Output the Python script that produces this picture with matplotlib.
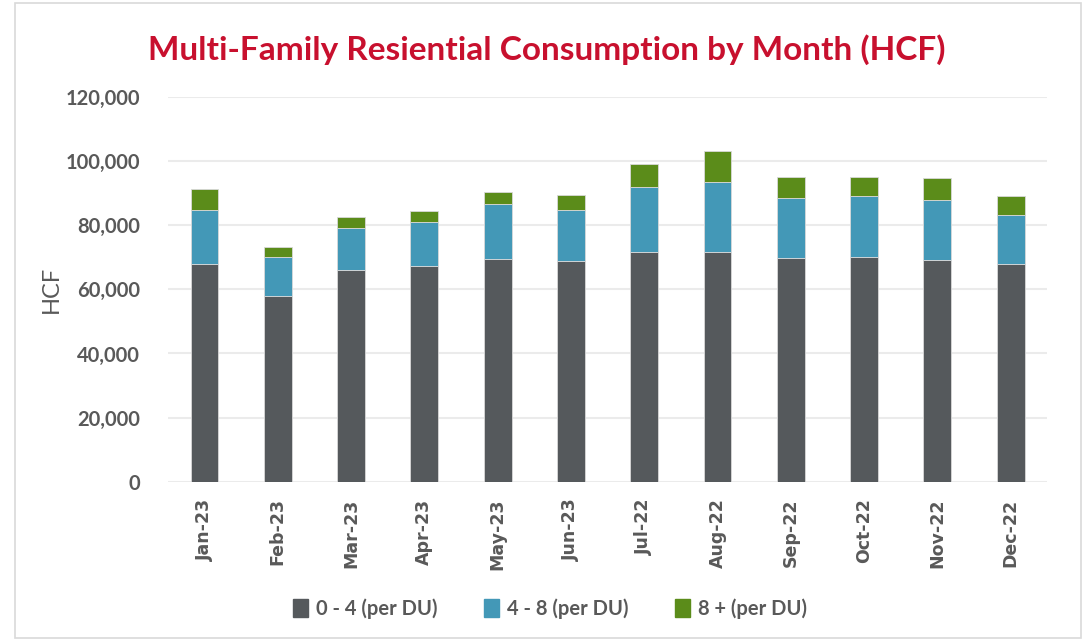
import matplotlib.pyplot as plt
import matplotlib.patches as mpatches
import numpy as np

# Monthly consumption (HCF)
months = ['Jan-23', 'Feb-23', 'Mar-23', 'Apr-23', 'May-23', 'Jun-23',
          'Jul-22', 'Aug-22', 'Sep-22', 'Oct-22', 'Nov-22', 'Dec-22']
tier_0_4 = [67850, 58080, 66190, 67430, 69400, 68780, 71800, 71800, 69820, 70130, 69090, 67850]
tier_4_8 = [16930, 11950, 12980, 13720, 17150, 16000, 20050, 21710, 18700, 19020, 18810, 15270]
tier_8_plus = [6650, 3120, 3330, 3320, 3850, 4780, 7380, 9660, 6650, 6020, 6960, 6030]

series_labels = ['0 - 4 (per DU)', '4 - 8 (per DU)', '8 + (per DU)']
colors = ['#55595C', '#4398B7', '#5B8C1A']

plt.rcParams['font.family'] = ['Lato', 'DejaVu Sans']

fig = plt.figure(figsize=(10.83, 6.41), dpi=100)
ax = fig.add_axes([0.155, 0.2485, 0.812, 0.6002])

x = np.arange(len(months))
width = 0.38
bottom = np.zeros(len(months))
for vals, lab, col in zip([tier_0_4, tier_4_8, tier_8_plus], series_labels, colors):
    ax.bar(x, vals, width, bottom=bottom, color=col, label=lab,
           edgecolor='#d9d9d9', linewidth=0.6, zorder=3)
    bottom += np.array(vals)

ax.set_xlim(-0.5, len(months) - 0.5)
ax.set_ylim(0, 120000)
ax.tick_params(axis='y', length=0, pad=20)
ax.tick_params(axis='x', length=0, pad=12, labelfontfamily='DejaVu Sans',
               labelsize=12.5, labelcolor='#595959', labelrotation=90)
ax.set_yticks(np.arange(0, 120001, 20000))
ax.set_yticklabels([f'{v:,}' for v in range(0, 120001, 20000)],
                   fontsize=14.5, fontweight='bold', color='#595959')
ax.set_xticks(x)
ax.set_xticklabels(months, fontweight='bold')
ax.grid(axis='y', color='#ebebeb', linewidth=1.5, zorder=0)
for s in ax.spines.values():
    s.set_visible(False)

ax.set_ylabel('HCF', fontsize=17, color='#595959', labelpad=3)

fig.text(0.505, 0.922, 'Multi-Family Resiential Consumption by Month (HCF)',
         ha='center', va='center', fontsize=24, fontweight='bold', color='#C8102E')

handles = [mpatches.Patch(color=c, label=l) for c, l in zip(colors, series_labels)]
fig.legend(handles=handles, loc='center', bbox_to_anchor=(0.508, 0.05), ncol=3,
           frameon=False, handlelength=0.75, handleheight=1.0,
           handletextpad=0.4, columnspacing=2.3,
           prop={'weight': 'bold', 'size': 14.5})
for t in fig.legends[0].get_texts():
    t.set_color('#595959')

# light frame around the chart area
fig.patches.append(mpatches.Rectangle((0.014, 0.004), 0.984, 0.992, transform=fig.transFigure,
                                      fill=False, edgecolor='#d9d9d9', linewidth=1.2))

plt.savefig('out.png', dpi=100)
